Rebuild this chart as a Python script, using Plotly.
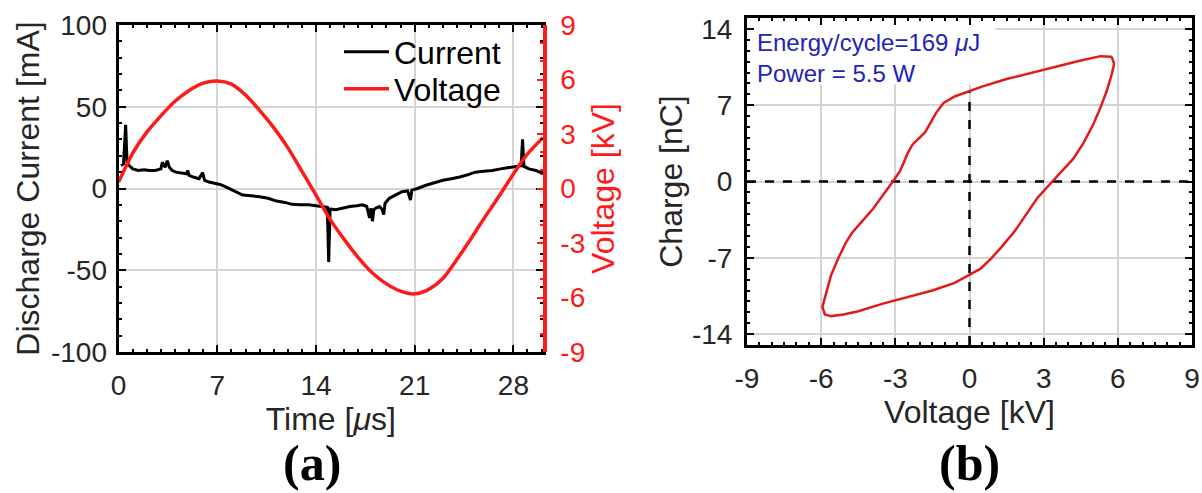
import plotly.graph_objects as go

# ---------------- Panel (a): discharge current & voltage vs time ----------------
current_time_us = [0.17, 0.35, 0.5, 0.6, 0.75, 1.0, 1.4, 1.8, 2.2, 2.6, 3.0, 3.1, 3.3, 3.45,
                   3.6, 3.8, 4.07, 4.4, 4.8, 4.9, 5.0, 5.3, 5.7, 5.96, 6.1, 6.4, 6.9, 7.2,
                   7.6, 8.2, 8.8, 9.4, 10.0, 10.6, 11.2, 11.8, 12.3, 12.9, 13.5, 14.0, 14.5,
                   14.8, 14.9, 15.0, 15.4, 15.9, 16.4, 16.9, 17.3, 17.6, 17.8, 17.9, 18.0,
                   18.1, 18.25, 18.5, 18.7, 18.8, 18.9, 19.2, 19.6, 20.1, 20.5, 20.7, 20.8,
                   21.2, 21.8, 22.4, 23.0, 23.6, 24.2, 24.8, 25.3, 25.9, 26.5, 27.1, 27.7,
                   28.3, 28.55, 28.65, 28.75, 29.1, 29.6, 30.1]
current_mA = [14, 15, 39, 16, 14, 12, 11, 11.5, 11, 11, 12, 16, 13, 17,
              13, 11, 10, 9.5, 9, 11, 8, 7, 6, 9.7, 5, 4, 3, 2.5,
              1, -1.5, -4, -4.5, -5, -6, -7.7, -8.5, -9.7, -10, -10, -10.5, -11,
              -11.5, -45, -12.5, -13, -12, -11, -10.5, -10, -11, -18, -12, -20,
              -13, -12, -11, -13, -16, -9, -6, -4, -2, -1.5, -7, -1,
              0, 2, 3.5, 5, 6, 7, 8.5, 10, 10.5, 11, 12, 13,
              14, 14, 30, 13.5, 12, 11, 9]

voltage_time_us = [0, 1, 2, 3, 4, 5, 6, 7, 8, 9, 10, 11, 12, 13, 14, 15, 16, 17, 18, 19,
                   20, 21, 22, 23, 24, 25, 26, 27, 28, 29, 30.1]
voltage_kV = [0.36, 1.95, 3.1, 4.0, 4.8, 5.4, 5.8, 5.92, 5.75, 5.15, 4.3, 3.35, 2.25, 0.95,
              -0.36, -1.7, -2.8, -3.8, -4.65, -5.25, -5.65, -5.8, -5.55, -4.95, -3.9,
              -2.75, -1.55, -0.4, 0.8, 1.9, 2.8]

time_ticks = [0, 7, 14, 21, 28]
current_ticks = [-100, -50, 0, 50, 100]
volt_ticks = [-9, -6, -3, 0, 3, 6, 9]

# ---------------- Panel (b): charge vs voltage (Q-V Lissajous) ----------------
loop_voltage_kV = [5.75, 5.3, 4.5, 3.5, 2.5, 1.5, 0.5, 0.0, -0.6, -1.05, -1.35, -1.8, -2.3,
                   -2.5, -2.8, -3.1, -3.5, -3.9, -4.4, -4.75, -5.0, -5.3, -5.6, -5.8, -5.95,
                   -5.85, -5.6, -5.1, -4.5, -3.5, -2.5, -1.5, -0.6, 0.0, 0.45, 0.9, 1.3,
                   1.85, 2.3, 2.75, 3.35, 3.8, 4.2, 4.6, 5.0, 5.3, 5.55, 5.75, 5.85, 5.75]
loop_charge_nC = [11.45, 11.5, 11.1, 10.55, 10.0, 9.4, 8.7, 8.3, 7.8, 7.2, 6.3, 4.5, 3.4,
                  2.6, 1.0, 0.0, -1.2, -2.5, -3.8, -4.7, -5.6, -7.0, -8.6, -10.2, -11.5,
                  -12.2, -12.35, -12.2, -11.9, -11.2, -10.6, -10.0, -9.3, -8.6, -8.0, -7.0,
                  -6.0, -4.5, -3.0, -1.5, 0.0, 1.1, 2.1, 3.5, 5.2, 6.8, 8.3, 9.8, 10.8, 11.45]

qv_volt_ticks = [-9, -6, -3, 0, 3, 6, 9]
charge_ticks = [-14, -7, 0, 7, 14]

FONT = "Liberation Sans, Arial, sans-serif"
TXT = "#262626"
GRID = "#d4d4d4"
RED = "#ff1a1a"
LOOP_RED = "#e01b1b"

def lab(v):
    return [str(x) for x in v]

fig = go.Figure()

fig.add_trace(go.Scatter(x=current_time_us, y=current_mA, mode="lines", name="Current",
                         line=dict(color="black", width=3), xaxis="x", yaxis="y",
                         legend="legend"))
fig.add_trace(go.Scatter(x=voltage_time_us, y=voltage_kV, mode="lines", name="Voltage",
                         line=dict(color=RED, width=3.5, shape="spline", smoothing=0.7),
                         xaxis="x", yaxis="y2", legend="legend2"))

# zero reference lines of panel (b)
q_at_zero_v = max(q for v, q in zip(loop_voltage_kV, loop_charge_nC) if v == 0)
fig.add_trace(go.Scatter(x=[qv_volt_ticks[0], qv_volt_ticks[-1]], y=[0, 0], mode="lines",
                         showlegend=False, line=dict(color="black", width=2.5, dash="dash"),
                         xaxis="x2", yaxis="y3", hoverinfo="skip"))
fig.add_trace(go.Scatter(x=[0, 0], y=[-15, q_at_zero_v], mode="lines",
                         showlegend=False, line=dict(color="black", width=2.5, dash="dash"),
                         xaxis="x2", yaxis="y3", hoverinfo="skip"))
fig.add_trace(go.Scatter(x=loop_voltage_kV, y=loop_charge_nC, mode="lines", showlegend=False,
                         line=dict(color=LOOP_RED, width=2.5), xaxis="x2", yaxis="y3"))

tickfont = dict(family=FONT, size=28, color=TXT)
titlefont = dict(family=FONT, size=32, color=TXT)
common = dict(showgrid=True, gridcolor=GRID, gridwidth=1.5, zeroline=False,
              showline=True, linecolor="black", linewidth=3, mirror="ticks",
              ticks="inside", ticklen=7, tickwidth=2, tickcolor="black",
              tickfont=tickfont, automargin=False)

leg = dict(xanchor="left", yanchor="middle", font=dict(family=FONT, size=32, color="black"),
           bgcolor="rgba(0,0,0,0)", itemwidth=45)

fig.update_layout(
    width=1202, height=493, margin=dict(l=0, r=0, t=0, b=0),
    paper_bgcolor="white", plot_bgcolor="white",
    showlegend=True,
    legend=dict(x=339 / 1202, y=1 - 52 / 493, **leg),
    legend2=dict(x=339 / 1202, y=1 - 89 / 493, **leg),
    xaxis=dict(domain=[118.6 / 1202, 543 / 1202], range=[0, 30.1], anchor="y",
               tickvals=time_ticks, ticktext=lab(time_ticks), ticklabelstandoff=6,
               minor=dict(dtick=1, ticks="inside", ticklen=3, tickcolor="black", showgrid=False),
               title=dict(text="Time [<i>μ</i>s]", font=titlefont, standoff=4), **common),
    yaxis=dict(domain=[1 - 352 / 493, 1 - 25 / 493], range=[-100, 100], anchor="x",
               tickvals=current_ticks, ticktext=lab(current_ticks), ticklabelstandoff=3,
               minor=dict(dtick=10, ticks="inside", ticklen=3, tickcolor="black", showgrid=False),
               title=dict(text="Discharge Current [mA]", font=titlefont, standoff=2), **common),
    yaxis2=dict(overlaying="y", side="right", anchor="x", range=[-9, 9],
                tickvals=volt_ticks, ticktext=lab(volt_ticks), automargin=False,
                showgrid=False, zeroline=False, showline=True, linecolor=RED, linewidth=3.5,
                ticks="inside", ticklen=6, tickwidth=2, tickcolor=RED,
                minor=dict(dtick=1, ticks="inside", ticklen=3, tickcolor=RED),
                tickfont=dict(family=FONT, size=28, color=RED), ticklabelstandoff=8,
                title=dict(text="Voltage [kV]", font=dict(family=FONT, size=32, color=RED),
                           standoff=4)),
    xaxis2=dict(domain=[747 / 1202, 1192 / 1202], range=[-9, 9], anchor="y3",
                tickvals=qv_volt_ticks, ticktext=lab(qv_volt_ticks), ticklabelstandoff=6,
                minor=dict(dtick=0.5, ticks="inside", ticklen=3, tickcolor="black", showgrid=False),
                title=dict(text="Voltage [kV]", font=titlefont, standoff=4), **common),
    yaxis3=dict(domain=[1 - 345 / 493, 1 - 18 / 493], range=[-15, 15], anchor="x2",
                tickvals=charge_ticks, ticktext=lab(charge_ticks), ticklabelstandoff=6,
                minor=dict(dtick=1, ticks="inside", ticklen=3, tickcolor="black", showgrid=False),
                title=dict(text="Charge [nC]", font=titlefont, standoff=0), **common),
)

# white box behind the energy annotation (hides grid lines)
fig.add_shape(type="rect", xref="x2", yref="y3", x0=-9, x1=1.05, y0=8.9, y1=15,
              fillcolor="white", line=dict(width=0), layer="between")

fig.add_annotation(xref="paper", yref="paper", x=755 / 1202, y=1 - 27 / 493,
                   xanchor="left", yanchor="top", align="left", showarrow=False,
                   text="Energy/cycle=169 <i>μ</i>J<br>Power = 5.5 W",
                   font=dict(family=FONT, size=24, color="#2424b4"))

for lbl, xc in [("(a)", 312 / 1202), ("(b)", 970 / 1202)]:
    fig.add_annotation(xref="paper", yref="paper", x=xc, y=1 - 463 / 493,
                       xanchor="center", yanchor="middle", showarrow=False,
                       text="<b>" + lbl + "</b>",
                       font=dict(family="Liberation Serif, Times New Roman, serif", size=50,
                                 color="black"))

fig.write_html("out.html")
